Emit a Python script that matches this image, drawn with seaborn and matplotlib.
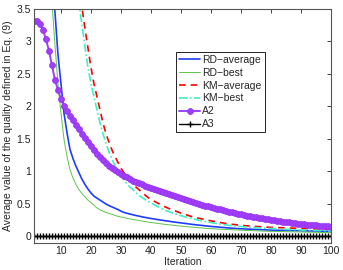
import matplotlib
matplotlib.use('Agg')
import matplotlib.pyplot as plt
import seaborn as sns

iterations = list(range(1, 101))

rd_avg = [
    9.0, 8.0, 7.0, 6.0, 5.2, 4.5, 3.9, 3.45, 2.8, 2.35,
    1.9, 1.6, 1.34, 1.2, 1.08, 0.98, 0.88, 0.8, 0.73, 0.67,
    0.62, 0.59, 0.56, 0.53, 0.5, 0.475, 0.455, 0.435, 0.415, 0.39,
    0.37, 0.357, 0.345, 0.334, 0.323, 0.313, 0.303, 0.294, 0.285, 0.277,
    0.27, 0.262, 0.255, 0.248, 0.241, 0.234, 0.227, 0.221, 0.215, 0.209,
    0.203, 0.197, 0.191, 0.185, 0.18, 0.175, 0.17, 0.165, 0.16, 0.155,
    0.151, 0.147, 0.143, 0.139, 0.135, 0.131, 0.127, 0.124, 0.121, 0.118,
    0.116, 0.114, 0.112, 0.11, 0.108, 0.106, 0.104, 0.102, 0.1, 0.098,
    0.097, 0.096, 0.095, 0.094, 0.093, 0.092, 0.091, 0.09, 0.089, 0.088,
    0.087, 0.086, 0.085, 0.084, 0.083, 0.082, 0.081, 0.08, 0.079, 0.078]

rd_best = [
    8.5, 7.5, 6.5, 5.6, 4.8, 4.1, 3.6, 2.95, 2.35, 1.9,
    1.5, 1.23, 1.03, 0.9, 0.8, 0.72, 0.66, 0.61, 0.56, 0.52,
    0.48, 0.44, 0.41, 0.39, 0.37, 0.355, 0.34, 0.325, 0.31, 0.3,
    0.29, 0.28, 0.27, 0.262, 0.254, 0.246, 0.238, 0.23, 0.222, 0.215,
    0.209, 0.203, 0.197, 0.191, 0.185, 0.18, 0.175, 0.17, 0.165, 0.16,
    0.155, 0.151, 0.147, 0.143, 0.139, 0.135, 0.131, 0.127, 0.124, 0.121,
    0.118, 0.115, 0.112, 0.11, 0.108, 0.106, 0.104, 0.102, 0.1, 0.098,
    0.096, 0.094, 0.092, 0.09, 0.088, 0.086, 0.084, 0.082, 0.08, 0.079,
    0.078, 0.077, 0.076, 0.075, 0.074, 0.073, 0.072, 0.071, 0.07, 0.069,
    0.068, 0.067, 0.066, 0.065, 0.064, 0.063, 0.062, 0.061, 0.06, 0.059]

km_avg = [
    14.0, 13.0, 12.0, 11.0, 10.0, 9.2, 8.4, 7.6, 6.9, 6.3,
    5.7, 5.2, 4.8, 4.4, 4.15, 3.85, 3.52, 3.2, 2.9, 2.6,
    2.35, 2.15, 1.95, 1.75, 1.58, 1.45, 1.33, 1.23, 1.14, 1.05,
    0.98, 0.92, 0.86, 0.81, 0.76, 0.72, 0.68, 0.64, 0.6, 0.57,
    0.545, 0.52, 0.495, 0.47, 0.45, 0.43, 0.41, 0.395, 0.377, 0.36,
    0.345, 0.33, 0.315, 0.302, 0.29, 0.28, 0.27, 0.26, 0.25, 0.24,
    0.232, 0.224, 0.216, 0.208, 0.2, 0.194, 0.188, 0.182, 0.176, 0.17,
    0.167, 0.164, 0.161, 0.158, 0.155, 0.152, 0.149, 0.146, 0.143, 0.14,
    0.138, 0.137, 0.135, 0.134, 0.132, 0.131, 0.129, 0.128, 0.126, 0.125,
    0.123, 0.122, 0.12, 0.119, 0.117, 0.116, 0.114, 0.113, 0.111, 0.11]

km_best = [
    13.0, 12.0, 11.0, 10.0, 9.2, 8.4, 7.6, 6.9, 6.3, 5.7,
    5.2, 4.8, 4.4, 4.3, 3.95, 3.6, 3.25, 2.92, 2.6, 2.35,
    2.15, 1.95, 1.75, 1.58, 1.44, 1.3, 1.19, 1.09, 1.0, 0.93,
    0.87, 0.81, 0.76, 0.72, 0.67, 0.63, 0.6, 0.57, 0.54, 0.52,
    0.49, 0.465, 0.44, 0.42, 0.4, 0.383, 0.366, 0.35, 0.335, 0.32,
    0.307, 0.295, 0.283, 0.272, 0.261, 0.25, 0.24, 0.231, 0.222, 0.214,
    0.206, 0.199, 0.192, 0.185, 0.178, 0.172, 0.167, 0.162, 0.157, 0.153,
    0.149, 0.146, 0.143, 0.14, 0.137, 0.134, 0.131, 0.128, 0.126, 0.124,
    0.121, 0.118, 0.115, 0.112, 0.11, 0.108, 0.106, 0.104, 0.102, 0.1,
    0.099, 0.097, 0.096, 0.094, 0.093, 0.091, 0.09, 0.088, 0.087, 0.085]

a2 = [
    3.32, 3.31, 3.27, 3.18, 3.03, 2.86, 2.63, 2.41, 2.25, 2.12,
    2.0, 1.93, 1.86, 1.79, 1.72, 1.65, 1.58, 1.51, 1.45, 1.39,
    1.33, 1.27, 1.22, 1.17, 1.13, 1.09, 1.05, 1.02, 0.99, 0.96,
    0.935, 0.91, 0.885, 0.86, 0.84, 0.82, 0.8, 0.78, 0.76, 0.74,
    0.725, 0.71, 0.695, 0.68, 0.665, 0.65, 0.635, 0.62, 0.605, 0.59,
    0.575, 0.56, 0.545, 0.53, 0.515, 0.5, 0.488, 0.476, 0.464, 0.452,
    0.44, 0.428, 0.416, 0.404, 0.392, 0.38, 0.37, 0.36, 0.35, 0.34,
    0.33, 0.321, 0.312, 0.303, 0.294, 0.286, 0.278, 0.27, 0.262, 0.255,
    0.248, 0.241, 0.234, 0.228, 0.222, 0.216, 0.21, 0.204, 0.199, 0.194,
    0.189, 0.184, 0.179, 0.174, 0.17, 0.166, 0.162, 0.158, 0.154, 0.15]

a3 = [
    0.0, 0.0, 0.0, 0.0, 0.0, 0.0, 0.0, 0.0, 0.0, 0.0,
    0.0, 0.0, 0.0, 0.0, 0.0, 0.0, 0.0, 0.0, 0.0, 0.0,
    0.0, 0.0, 0.0, 0.0, 0.0, 0.0, 0.0, 0.0, 0.0, 0.0,
    0.0, 0.0, 0.0, 0.0, 0.0, 0.0, 0.0, 0.0, 0.0, 0.0,
    0.0, 0.0, 0.0, 0.0, 0.0, 0.0, 0.0, 0.0, 0.0, 0.0,
    0.0, 0.0, 0.0, 0.0, 0.0, 0.0, 0.0, 0.0, 0.0, 0.0,
    0.0, 0.0, 0.0, 0.0, 0.0, 0.0, 0.0, 0.0, 0.0, 0.0,
    0.0, 0.0, 0.0, 0.0, 0.0, 0.0, 0.0, 0.0, 0.0, 0.0,
    0.0, 0.0, 0.0, 0.0, 0.0, 0.0, 0.0, 0.0, 0.0, 0.0,
    0.0, 0.0, 0.0, 0.0, 0.0, 0.0, 0.0, 0.0, 0.0, 0.0]

sns.set_style('white')
plt.rcParams['font.family'] = ['Liberation Sans', 'DejaVu Sans']

fig = plt.figure(figsize=(3.43, 2.70), dpi=100)
ax = fig.add_axes([0.099, 0.1, 0.866, 0.867])

sns.lineplot(x=iterations, y=rd_avg, ax=ax, color='#1f3dff', lw=1.2, label='RD\u2212average')
sns.lineplot(x=iterations, y=rd_best, ax=ax, color='#5fc24a', lw=0.7, label='RD\u2212best')
sns.lineplot(x=iterations, y=km_avg, ax=ax, color='#ff0000', lw=1.2, label='KM\u2212average')
ax.lines[-1].set_linestyle((0, (4, 3)))
sns.lineplot(x=iterations, y=km_best, ax=ax, color='#3ff0c0', lw=1.2, label='KM\u2212best')
ax.lines[-1].set_linestyle((0, (5, 1.5, 1, 1.5)))
sns.lineplot(x=iterations, y=a2, ax=ax, color='#a040ff', lw=1.4, marker='o',
             markersize=4.2, markeredgecolor='#9a30f0', markeredgewidth=0.6, label='A2')
sns.lineplot(x=iterations, y=a3, ax=ax, color='black', lw=1.0, marker='+',
             markersize=4, markeredgecolor='black', markeredgewidth=1.0, label='A3')

ax.set_xlim(1, 100)
ax.set_ylim(-0.1, 3.5)
ax.set_xticks(range(10, 101, 10))
ax.set_yticks([0, 0.5, 1, 1.5, 2, 2.5, 3, 3.5])
ax.set_yticklabels(['0', '0.5', '1', '1.5', '2', '2.5', '3', '3.5'])
ax.tick_params(direction='in', length=3, width=0.6, top=True, right=True,
               labelsize=7.5, colors='#222222', pad=2)
for s in ax.spines.values():
    s.set_color('#555555')
    s.set_linewidth(0.8)

ax.set_xlabel('Iteration', fontsize=7.5, labelpad=1)
ax.set_ylabel('Average value of the quality defined in Eq. (9)', fontsize=7.5, labelpad=3)

leg = ax.legend(loc='upper left', bbox_to_anchor=(0.513, 0.809),
                bbox_transform=fig.transFigure, fontsize=7.5, frameon=True,
                fancybox=False, framealpha=1, edgecolor='black',
                handlelength=2.0, handletextpad=0.2, labelspacing=0.28,
                borderpad=0.3, borderaxespad=0)
leg.get_frame().set_linewidth(0.6)

fig.savefig('out.png', dpi=100)
